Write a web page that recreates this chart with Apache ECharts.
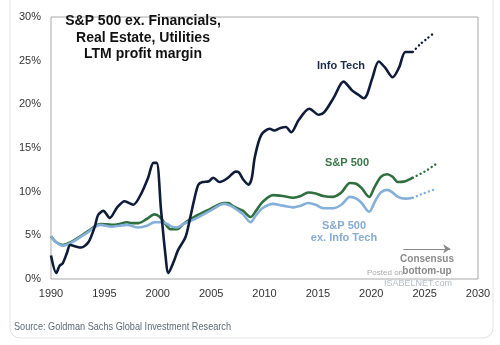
<!DOCTYPE html>
<html>
<head>
<meta charset="utf-8">
<script src="https://cdn.jsdelivr.net/npm/echarts@6/dist/echarts.min.js"></script>
<style>
html,body{margin:0;padding:0;background:#fff;}
#chart{width:500px;height:345px;}
</style>
</head>
<body>
<div id="chart"></div>
<script>
// ---- Data ----
const xTicks = [1990, 1995, 2000, 2005, 2010, 2015, 2020, 2025, 2030];
const yTicks = [0, 5, 10, 15, 20, 25, 30];

const itYears = [1990.0,1990.5,1990.8,1991.1,1991.5,1991.8,1992.4,1992.8,1993.5,1994.1,1994.4,1994.9,1995.5,1996.2,1996.9,1997.7,1998.5,1999.1,1999.6,1999.9,2000.3,2000.7,2001.0,2001.5,2001.9,2002.6,2003.0,2003.4,2003.8,2004.2,2004.8,2005.2,2005.8,2006.6,2007.3,2007.6,2008.0,2008.5,2008.8,2009.1,2009.7,2010.5,2010.9,2011.5,2012.0,2012.5,2013.2,2014.2,2015.1,2015.6,2016.5,2017.4,2018.2,2018.8,2019.3,2019.6,2020.1,2020.7,2021.3,2022.0,2022.6,2023.2,2023.9];
const itValues = [2.7,0.7,1.5,1.8,3.0,3.9,3.7,3.6,4.2,6.0,7.3,7.8,7.0,8.2,8.9,8.5,9.9,11.6,13.3,13.3,8.0,3.0,0.7,2.0,3.3,4.8,6.8,9.0,10.8,11.1,11.2,11.6,11.1,11.6,12.3,12.2,11.4,10.8,11.5,14.0,16.5,17.2,17.0,17.3,17.4,16.8,18.2,19.5,18.8,19.1,20.8,22.6,21.6,21.1,20.7,21.1,23.0,24.9,24.2,23.1,24.2,26.0,26.0];
const itProjYears = [2023.9, 2024.6, 2025.2, 2025.9];
const itProjValues = [26.0, 26.9, 27.5, 28.2];

const spYears = [1990.0,1990.5,1991.1,1991.8,1992.5,1993.5,1994.6,1995.7,1996.4,1997.1,1997.6,1998.2,1999.0,1999.7,2000.2,2000.7,2001.2,2001.8,2002.4,2003.0,2003.7,2004.9,2006.2,2006.6,2007.1,2008.0,2008.7,2009.2,2009.8,2010.8,2011.7,2012.7,2013.4,2014.1,2014.8,2015.5,2016.4,2017.2,2018.0,2018.6,2019.1,2019.8,2020.3,2020.9,2021.5,2022.0,2022.5,2023.2,2023.9];
const spValues = [4.9,4.2,3.9,4.2,4.7,5.5,6.3,6.2,6.3,6.5,6.4,6.4,6.9,7.4,7.1,6.3,5.7,5.7,6.3,6.8,7.3,8.0,8.7,8.7,8.3,7.8,7.1,7.8,8.8,9.6,9.5,9.3,9.5,9.9,9.8,9.5,9.4,9.9,11.0,10.9,10.4,9.4,10.5,11.7,12.0,11.7,11.1,11.2,11.6];
const spProjYears = [2023.9, 2025.0, 2026.0];
const spProjValues = [11.6, 12.3, 13.1];

const exYears = [1990.0,1990.5,1991.1,1991.8,1992.5,1993.5,1994.6,1995.7,1996.4,1997.1,1998.2,1999.0,1999.7,2000.5,2001.3,2001.8,2002.4,2003.0,2003.7,2004.9,2006.2,2006.6,2007.1,2008.0,2008.7,2009.2,2009.8,2010.8,2011.7,2012.7,2013.4,2014.1,2014.8,2015.5,2016.4,2017.2,2018.0,2018.6,2019.1,2019.8,2020.4,2020.9,2021.5,2022.0,2022.5,2023.2,2023.9];
const exValues = [4.9,4.2,3.8,4.1,4.6,5.4,6.2,6.0,6.1,6.2,5.9,6.1,6.5,6.5,6.0,5.9,6.3,6.6,7.0,7.8,8.6,8.5,8.2,7.4,6.5,7.3,8.1,8.6,8.4,8.2,8.4,8.7,8.5,8.1,8.1,8.5,9.4,9.2,8.7,7.7,9.0,9.9,10.2,9.9,9.4,9.2,9.3];
const exProjYears = [2023.9, 2024.9, 2025.8];
const exProjValues = [9.3, 9.8, 10.2];

const arrowYears = [2023.0, 2027.4];
const arrowLevel = 3.45;

const titleLines = ['S&P 500 ex. Financials,', 'Real Estate, Utilities', 'LTM profit margin'];
const sourceText = 'Source: Goldman Sachs Global Investment Research';

// ---- Build ----
const zip = (xs, ys) => xs.map((x, i) => [x, ys[i]]);
const NAVY = '#0e1c3a', GREEN = '#2f6e3e', BLUE = '#83afd8';
const FONT = '"Liberation Sans", Arial, sans-serif';
const SRC_FONT = '11px "Liberation Sans", Arial, sans-serif';

// fit the source line to the width it has in the reference
const mctx = document.createElement('canvas').getContext('2d');
mctx.font = SRC_FONT;
const srcScale = 217 / mctx.measureText(sourceText).width;

const chart = echarts.init(document.getElementById('chart'), null, {renderer: 'canvas'});

const lineSeries = (name, data, color, z) => ({
  name, type: 'line', data, smooth: 0.3, showSymbol: false, symbol: 'none', z,
  lineStyle: {color, width: 2.6}
});
const projSeries = (name, data, color, z) => ({
  name, type: 'line', data, smooth: 0.3, showSymbol: false, symbol: 'none', z,
  lineStyle: {color, width: 2.4, type: [0.1, 4.2], cap: 'round'}
});

chart.setOption({
  animation: false,
  backgroundColor: '#fff',
  grid: {left: 51, right: 22, top: 17, bottom: 66, show: true, borderColor: '#a8a8a8', borderWidth: 1, backgroundColor: 'transparent'},
  xAxis: {
    type: 'value', min: xTicks[0], max: xTicks[xTicks.length - 1], interval: 5,
    axisLine: {show: false}, axisTick: {show: false}, splitLine: {show: false},
    axisLabel: {color: '#333', fontSize: 11, fontFamily: FONT, margin: 9, formatter: v => String(v)}
  },
  yAxis: {
    type: 'value', min: yTicks[0], max: yTicks[yTicks.length - 1], interval: 5,
    axisLine: {show: false}, axisTick: {show: false}, splitLine: {show: false},
    axisLabel: {color: '#333', fontSize: 11, fontFamily: FONT, margin: 10, formatter: v => v + '%'}
  },
  series: [
    lineSeries('S&P 500', zip(spYears, spValues), GREEN, 2),
    projSeries('S&P 500 proj', zip(spProjYears, spProjValues), GREEN, 2),
    lineSeries('S&P 500 ex. Info Tech', zip(exYears, exValues), BLUE, 3),
    projSeries('ex proj', zip(exProjYears, exProjValues), BLUE, 3),
    lineSeries('Info Tech', zip(itYears, itValues), NAVY, 4),
    projSeries('IT proj', zip(itProjYears, itProjValues), NAVY, 4),
    {
      type: 'line', data: [], silent: true,
      markLine: {
        silent: true, symbol: ['none', 'arrow'], symbolSize: 7,
        label: {show: false},
        lineStyle: {color: '#8a8a8a', width: 1, type: 'solid'},
        itemStyle: {color: '#8a8a8a'},
        data: [[{coord: [arrowYears[0], arrowLevel]}, {coord: [arrowYears[1], arrowLevel]}]]
      }
    }
  ],
  graphic: [
    {type: 'rect', shape: {x: 10, y: -12, width: 483, height: 350, r: 10}, style: {fill: 'none', stroke: '#e2e2e2', lineWidth: 1}, z: -1},
    {type: 'text', x: 143, y: 38, style: {text: titleLines.join('\n'), font: 'bold 14px ' + FONT, fill: '#111', align: 'center', verticalAlign: 'middle', lineHeight: 16.5}},
    {type: 'text', x: 341, y: 66, style: {text: 'Info Tech', font: 'bold 11px ' + FONT, fill: '#1b2a47', align: 'center', verticalAlign: 'middle'}},
    {type: 'text', x: 347, y: 163, style: {text: 'S&P 500', font: 'bold 11px ' + FONT, fill: '#3a7848', align: 'center', verticalAlign: 'middle'}},
    {type: 'text', x: 344, y: 232, style: {text: 'S&P 500\nex. Info Tech', font: 'bold 11px ' + FONT, fill: '#86acd2', align: 'center', verticalAlign: 'middle', lineHeight: 12}},
    {type: 'text', x: 427, y: 265, style: {text: 'Consensus\nbottom-up', font: 'bold 10px ' + FONT, fill: '#8a8a8a', align: 'center', verticalAlign: 'middle', lineHeight: 12}},
    {type: 'text', x: 367, y: 273, style: {text: 'Posted on', font: '8px ' + FONT, fill: '#a8a8a8', align: 'left', verticalAlign: 'middle'}},
    {type: 'text', x: 384, y: 284, style: {text: 'ISABELNET.com', font: '9px ' + FONT, fill: '#b4bcc8', align: 'left', verticalAlign: 'middle'}},
    {type: 'text', x: 14, y: 327, scaleX: srcScale, style: {text: sourceText, font: SRC_FONT, fill: '#5d6b7a', align: 'left', verticalAlign: 'middle'}}
  ]
});
</script>
</body>
</html>
